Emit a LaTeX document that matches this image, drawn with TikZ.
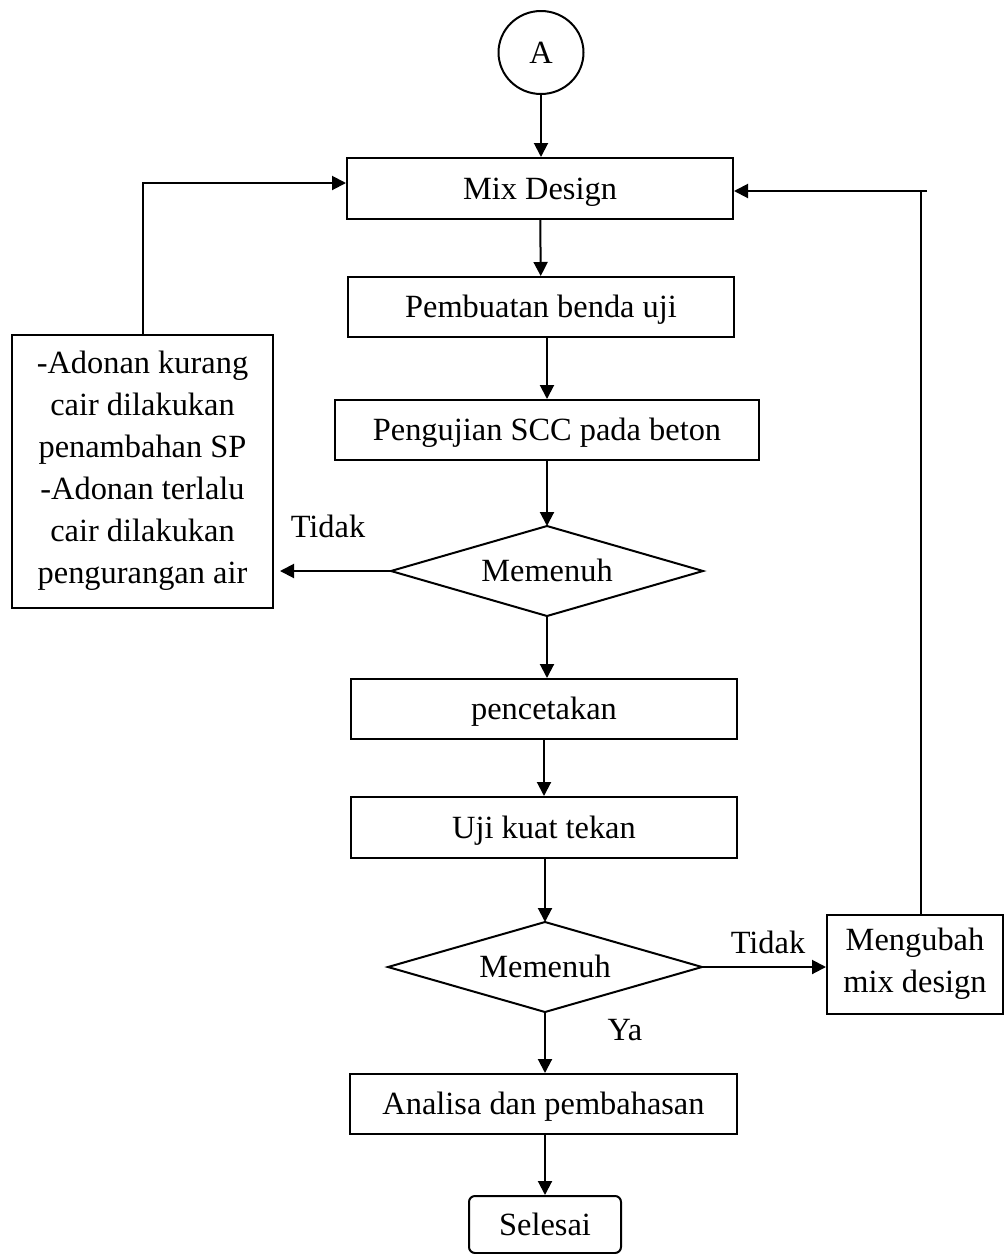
\documentclass[tikz,border=0pt]{standalone}
\usepackage{fontspec}
\setmainfont{Liberation Serif}
\usetikzlibrary{shapes.geometric,arrows.meta}
\begin{document}
\begin{tikzpicture}[x=0.5pt,y=-0.5pt,
  every node/.style={font=\fontsize{16.2}{21}\selectfont},
  proc/.style={draw,line width=1pt,rectangle,inner sep=0pt,minimum height=30pt},
  one/.style={text height=10.7pt,text depth=0pt},
  dec/.style={rectangle,inner sep=0pt,outer sep=0pt,minimum width=156pt,minimum height=45pt,text height=10.7pt,text depth=0pt},
  arr/.style={line width=1pt,-{Triangle[length=7pt,width=7pt]}},
  ln/.style={line width=1pt},
  lbl/.style={inner sep=0pt}]
\useasboundingbox (0,0) rectangle (1006,1254);

\node[draw,ellipse,line width=1pt,minimum width=42.5pt,minimum height=41.5pt,inner sep=0pt,one] (A) at (541,52.5) {A};
\node[proc,one,minimum width=193pt,minimum height=30.5pt] (mix) at (540,188.5) {Mix Design};
\node[proc,one,minimum width=193pt,minimum height=30pt] (pemb) at (541,307) {Pembuatan benda uji};
\node[proc,one,minimum width=212pt,minimum height=30pt] (peng) at (547,430) {Pengujian SCC pada beton};
\node[dec] (d1) at (547,571) {Memenuh};
\draw[ln] (d1.north) -- (d1.east) -- (d1.south) -- (d1.west) -- cycle;
\node[proc,minimum width=130.5pt,minimum height=136.5pt,align=center] (left) at (142.5,471) {-Adonan kurang\\cair dilakukan\\penambahan SP\\-Adonan terlalu\\cair dilakukan\\pengurangan air};
\node[proc,one,minimum width=193pt,minimum height=30pt] (penc) at (544,709) {pencetakan};
\node[proc,one,minimum width=193pt,minimum height=30.5pt] (uji) at (544,827.5) {Uji kuat tekan};
\node[dec,minimum width=157pt] (d2) at (545,967) {Memenuh};
\draw[ln] (d2.north) -- (d2.east) -- (d2.south) -- (d2.west) -- cycle;
\node[proc,minimum width=88pt,minimum height=49.5pt,align=center] (meng) at (915,964) {Mengubah\\mix design};
\node[proc,one,minimum width=193.5pt,minimum height=30pt] (anal) at (543.5,1104) {Analisa dan pembahasan};
\node[proc,one,rounded corners=3pt,minimum width=76pt,minimum height=28.5pt] (sel) at (545,1224.5) {Selesai};

\node[lbl,one] (t1) at (328,527) {Tidak};
\node[lbl,one] (t2) at (768,943) {Tidak};
\node[lbl,one] (ya) at (625,1030) {Ya};

\coordinate (rc) at (921,191);
\coordinate (rs) at (927,191);

\draw[arr] (A.south) -- (A.south |- mix.north);
\draw[arr] (mix) -- (pemb);
\draw[arr] (pemb.south -| peng.north) -- (peng.north);
\draw[arr] (peng) -- (d1.north);
\draw[arr,shorten >=3pt] (d1.west) -- (d1.west -| left.east);
\draw[arr] (d1.south) -- (d1.south |- penc.north);
\draw[arr] (penc) -- (uji);
\draw[arr] (uji.south -| d2.north) -- (d2.north);
\draw[arr] (d2.east) -- (d2.east -| meng.west);
\draw[arr] (d2.south) -- (d2.south |- anal.north);
\draw[arr] (anal.south -| sel.north) -- (sel.north);
\draw[ln] (meng.north -| rc) -- (rc);
\draw[arr] (rs) -- (rs -| mix.east);
\draw[arr] (left.north) |- ([yshift=2.75pt]mix.west);
\end{tikzpicture}
\end{document}
